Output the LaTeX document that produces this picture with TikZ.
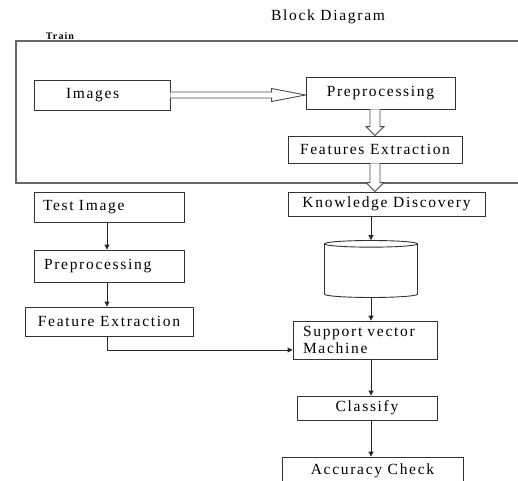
\documentclass[tikz,border=0pt]{standalone}
\usepackage{fontspec}
\setmainfont{Liberation Serif}[LetterSpace=11]
\usetikzlibrary{calc,arrows.meta,shapes.geometric}

\begin{document}
\begin{tikzpicture}[x = 1pt, y = -1pt, font = \fontsize{15.5}{17}\selectfont,
  blk/.style = {draw = black!80, line width = .9pt, inner ysep = 0pt},
  leftblk/.style = {blk, align = left, inner xsep = #1},
  arr/.style = {draw = black!85, line width = .9pt, -{Triangle[length = 5pt, width = 5pt]}},
  hollow/.style = {draw = black!70, fill = white, line width = .9pt},
  frame/.style = {draw = black!60, line width = 1.1pt}]
\useasboundingbox (0, 0) rectangle (518, 480);

\node (title) at (328, 17) {Block Diagram};
\draw [frame] (518, 41) -| (16, 183) -- (518, 183);
\node [font = \fontsize{10}{12}\selectfont\bfseries, inner sep = 0pt] (train) at (60, 36) {Train};

\node [leftblk = 32pt, text width = 72pt, minimum height = 30pt] (img) at (102, 95) {Images};
\node [blk, minimum width = 149pt, minimum height = 32pt] (pre1) at (380.5, 93) {Preprocessing};
\node [blk, minimum width = 174pt, minimum height = 27pt] (fe1) at (375, 149.5) {Features Extraction};
\node [blk, minimum width = 197pt, minimum height = 24pt] (kd) at (386.5, 204) {Knowledge Discovery};
\node [draw = black!80, line width = .9pt, cylinder, shape border rotate = 90, aspect = 1,
  minimum width = 93pt, minimum height = 57pt] (db) at (371, 271.5) {};
\node [leftblk = 10pt, text width = 124pt, minimum height = 38pt] (svm) at (365, 340) {Support vector\\Machine};
\node [blk, minimum width = 140pt, minimum height = 24pt] (cls) at (367, 408) {Classify};
\node [blk, minimum width = 181pt, minimum height = 27pt] (acc) at (372.5, 470.5) {Accuracy Check};

\node [leftblk = 9pt, text width = 132pt, minimum height = 30pt] (timg) at (109, 207) {Test Image};
\node [leftblk = 10pt, text width = 130pt, minimum height = 32pt] (pre2) at (109, 266) {Preprocessing};
\node [blk, minimum width = 168pt, minimum height = 29pt] (fe2) at (109, 321.5) {Feature Extraction};

\draw [hollow] ($(img.east) + (0, -3)$) -- ($(img.east -| pre1.west) + (-34, -3)$)
  -- ($(img.east -| pre1.west) + (-34, -6.5)$) -- (img.east -| pre1.west)
  -- ($(img.east -| pre1.west) + (-34, 6.5)$) -- ($(img.east -| pre1.west) + (-34, 3)$)
  -- ($(img.east) + (0, 3)$);
\draw [hollow] ($(pre1.south -| fe1.north) + (-5, 0)$) -- ($(fe1.north) + (-5, -9)$)
  -- ($(fe1.north) + (-9, -9)$) -- (fe1.north) -- ($(fe1.north) + (9, -9)$)
  -- ($(fe1.north) + (5, -9)$) -- ($(pre1.south -| fe1.north) + (5, 0)$);
\draw [hollow] ($(fe1.south) + (-5, 0)$) -- ($(fe1.south |- kd.north) + (-5, -9)$)
  -- ($(fe1.south |- kd.north) + (-9, -9)$) -- (fe1.south |- kd.north)
  -- ($(fe1.south |- kd.north) + (9, -9)$) -- ($(fe1.south |- kd.north) + (5, -9)$)
  -- ($(fe1.south) + (5, 0)$);

\draw [arr] (kd.south -| db.north) -- (db.north);
\draw [arr] (db.south) -- (db.south |- svm.north);
\draw [arr] (svm.south -| db.south) -- (cls.north -| db.south);
\draw [arr] (cls.south -| db.south) -- (acc.north -| db.south);

\draw [arr] ($(timg.south) + (-2, 0)$) -- ($(pre2.north) + (-2, 0)$);
\draw [arr] ($(pre2.south) + (-2, 0)$) -- ($(fe2.north) + (-2, 0)$);
\draw [arr] ($(fe2.south) + (-2, 0)$) |- ([yshift = -10pt]svm.west);
\end{tikzpicture}
\end{document}
